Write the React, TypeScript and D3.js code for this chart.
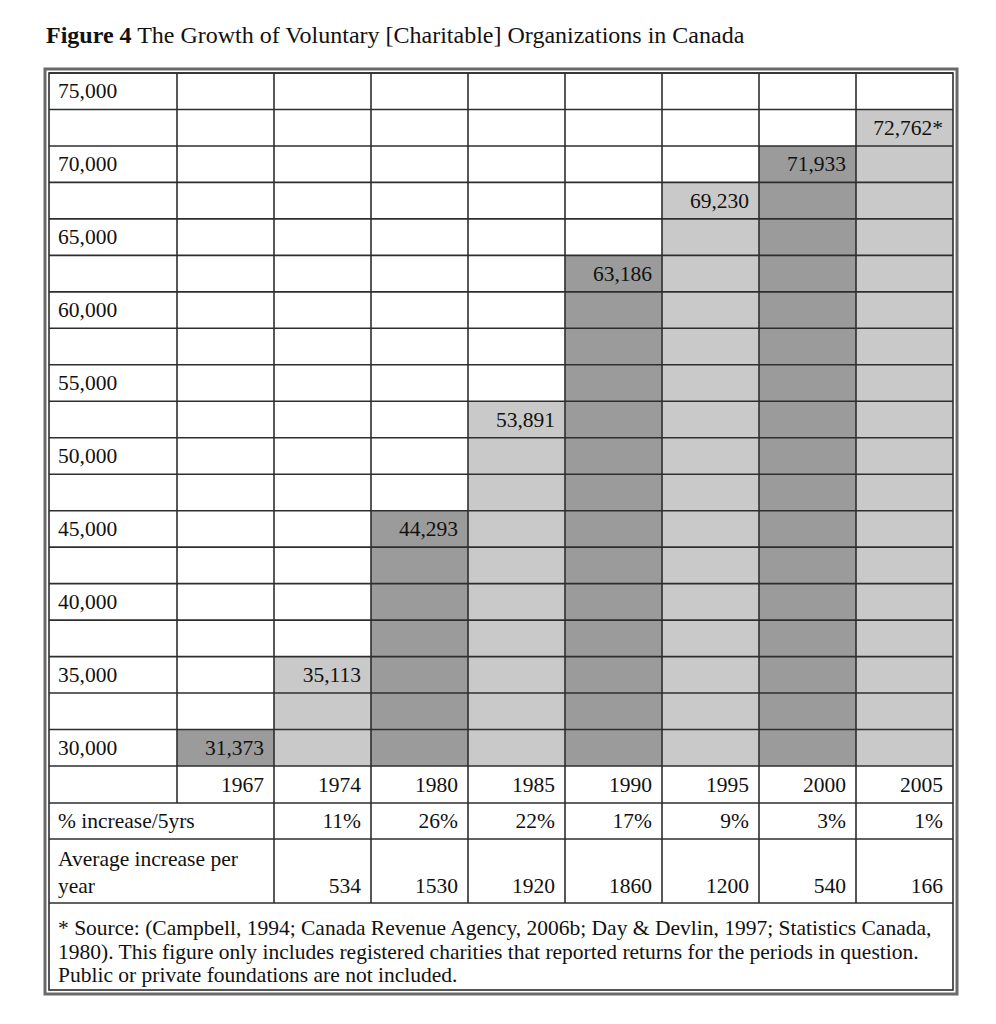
import React from "react";
import * as d3 from "d3";

const title = "The Growth of Voluntary [Charitable] Organizations in Canada";
const levelLabels = ["75,000", "", "70,000", "", "65,000", "", "60,000", "", "55,000", "", "50,000", "", "45,000", "", "40,000", "", "35,000", "", "30,000"];
const levels = [75000, 72500, 70000, 67500, 65000, 62500, 60000, 57500, 55000, 52500, 50000, 47500, 45000, 42500, 40000, 37500, 35000, 32500, 30000];
const years = ["1967", "1974", "1980", "1985", "1990", "1995", "2000", "2005"];
const valueLabels = ["31,373", "35,113", "44,293", "53,891", "63,186", "69,230", "71,933", "72,762*"];
const barTopLevel = [30000, 35000, 45000, 52500, 62500, 67500, 70000, 72500];
const pctIncrease = ["", "11%", "26%", "22%", "17%", "9%", "3%", "1%"];
const avgIncrease = ["", "534", "1530", "1920", "1860", "1200", "540", "166"];
const sourceLines = [
  "* Source: (Campbell, 1994; Canada Revenue Agency, 2006b; Day & Devlin, 1997; Statistics Canada,",
  "1980). This figure only includes registered charities that reported returns for the periods in question.",
  "Public or private foundations are not included.",
];

const W = 996, H = 1024;
const L = 49, R = 953, T = 73;
const firstColW = 128;
const gridBottom = 766;
const yearRowB = 803, pctRowB = 839, avgRowB = 903, srcRowB = 990;
const FONT = "'Liberation Serif', 'Times New Roman', serif";
const DARK = "#9b9b9b", LIGHT = "#c9c9c9", LINE = "#2e2e2e";
const FS = 21.5;

export default function App() {
  const x = d3.scaleBand<string>().domain(years).range([L + firstColW, R]);
  const y = d3.scaleBand<number>().domain(levels).range([T, gridBottom]);
  const bw = x.bandwidth();
  const rh = y.bandwidth();
  const lineW = 1.6;

  const hLines: number[] = [...levels.map((l) => y(l)!), gridBottom, yearRowB, pctRowB, avgRowB];
  return (
    <svg width={W} height={H} style={{ position: "absolute", left: 0, top: 0, background: "#fff" }} fontFamily={FONT}>
      <rect x={0} y={0} width={W} height={H} fill="#fff" />
      <text x={46} y={43} fontSize={24} fill="#111">
        <tspan fontWeight="bold">Figure 4</tspan>
        <tspan> {title}</tspan>
      </text>
      {/* bars */}
      {years.map((yr, i) => {
        const top = y(barTopLevel[i])!;
        return (
          <rect key={yr} x={x(yr)} y={top} width={bw} height={gridBottom - top} fill={i % 2 === 0 ? DARK : LIGHT} />
        );
      })}
      {/* grid lines */}
      {hLines.map((hy, i) => (
        <line key={"h" + i} x1={L} x2={R} y1={hy} y2={hy} stroke={LINE} strokeWidth={lineW} />
      ))}
      {/* vertical lines in grid + year row */}
      {[L + firstColW, ...years.slice(1).map((yr) => x(yr)!)].map((vx, i) => (
        <line key={"v" + i} x1={vx} x2={vx} y1={T} y2={i === 0 ? yearRowB : avgRowB} stroke={LINE} strokeWidth={lineW} />
      ))}
      {/* outer borders */}
      <rect x={L} y={T} width={R - L} height={srcRowB - T} fill="none" stroke={LINE} strokeWidth={lineW} />
      <rect x={45} y={69} width={R - L + 8} height={srcRowB - T + 8} fill="none" stroke="#6a6a6a" strokeWidth={3} />
      {/* level labels */}
      {levels.map((l, i) => (
        <text key={"l" + i} x={L + 9} y={y(l)! + rh / 2 + 7} fontSize={FS} fill="#111">
          {levelLabels[i]}
        </text>
      ))}
      {/* value labels */}
      {years.map((yr, i) => (
        <text key={"vl" + i} x={x(yr)! + bw - 10} y={y(barTopLevel[i])! + rh / 2 + 7} fontSize={FS} textAnchor="end" fill="#111">
          {valueLabels[i]}
        </text>
      ))}
      {/* years */}
      {years.map((yr) => (
        <text key={"yr" + yr} x={x(yr)! + bw - 10} y={(gridBottom + yearRowB) / 2 + 7} fontSize={FS} textAnchor="end" fill="#111">
          {yr}
        </text>
      ))}
      <text x={L + 9} y={(yearRowB + pctRowB) / 2 + 7} fontSize={FS} fill="#111">% increase/5yrs</text>
      {years.map((yr, i) => (
        <text key={"p" + yr} x={x(yr)! + bw - 10} y={(yearRowB + pctRowB) / 2 + 7} fontSize={FS} textAnchor="end" fill="#111">
          {pctIncrease[i]}
        </text>
      ))}
      <text x={L + 9} y={866} fontSize={FS} fill="#111">Average increase per</text>
      <text x={L + 9} y={893} fontSize={FS} fill="#111">year</text>
      {years.map((yr, i) => (
        <text key={"a" + yr} x={x(yr)! + bw - 10} y={893} fontSize={FS} textAnchor="end" fill="#111">
          {avgIncrease[i]}
        </text>
      ))}
      {sourceLines.map((s, i) => (
        <text key={"s" + i} x={L + 9} y={935 + i * 23.5} fontSize={FS} fill="#111">
          {s}
        </text>
      ))}
    </svg>
  );
}
